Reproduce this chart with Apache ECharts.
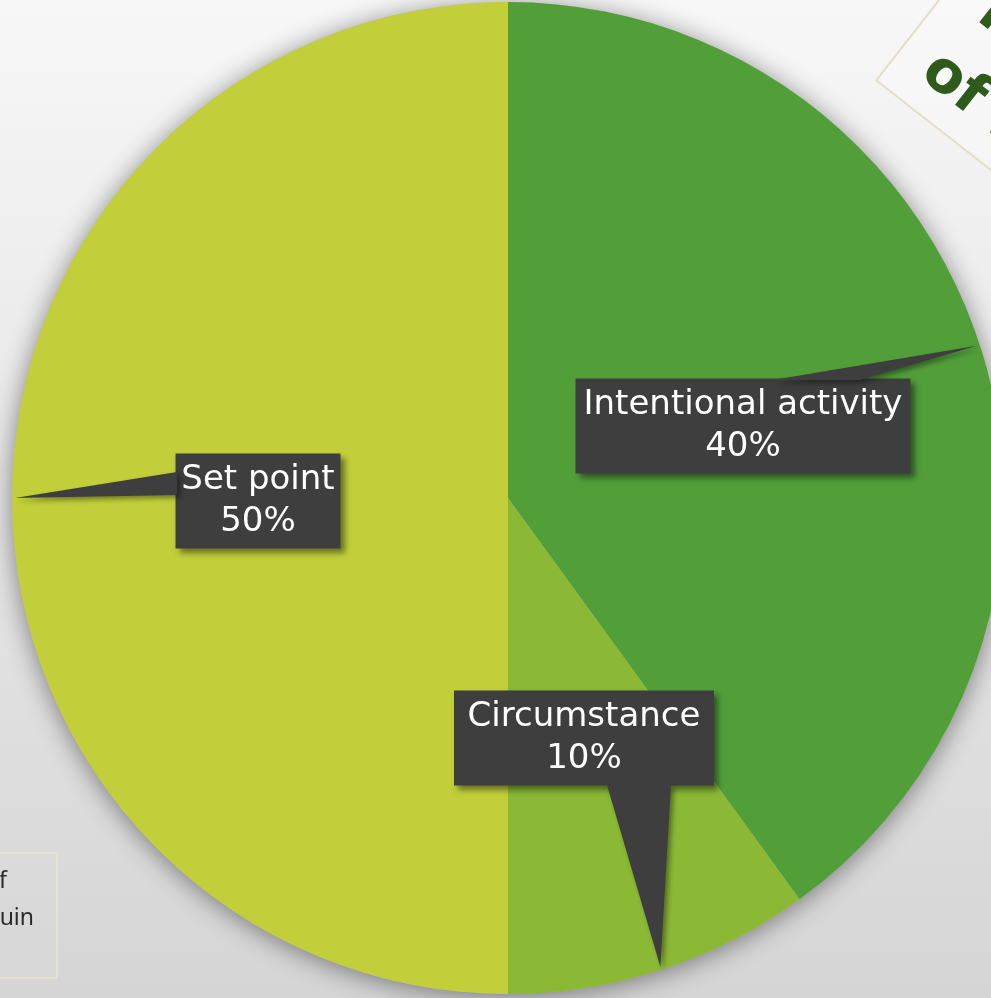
<!DOCTYPE html>
<html><head><meta charset="utf-8">
<script src="https://cdn.jsdelivr.net/npm/echarts@6/dist/echarts.min.js"></script>
<style>html,body{margin:0;padding:0;overflow:hidden;} #c{width:991px;height:998px;}</style>
</head><body><div id="c"></div>
<script>
// ---- data ----
const categories = ['Intentional activity', 'Circumstance', 'Set point'];
const values = [40, 10, 50];
const sliceColors = ['#529F3A', '#8BB835', '#C2CF3A'];
const titleText = 'Three sources\nof happiness';
const noteLines = ['of', 'uin'];

// ---- layout / style (not data) ----
const labelCenters = [[743, 426], [584, 738], [258, 501]];
const labelWidths = [315, 240, 145];
// wedge base points on each callout box (callout styling)
const wedgeBases = [
  [[773, 380], [860, 380]],
  [[607, 785], [671, 785]],
  [[177, 472], [177, 495]]
];
const pieCenter = [508, 498];
const pieRadius = 496;
const boxColor = '#3e3e3e';

const chart = echarts.init(document.getElementById('c'), null, {renderer: 'canvas'});
const total = values.reduce((a, b) => a + b, 0);
const rot = -38 * Math.PI / 180;

const baseGraphics = [
  {
    id: 'titleBox', type: 'rect', x: 1061, y: -156, rotation: rot, z: 1,
    shape: {x: 0, y: 0, width: 420, height: 300},
    style: {fill: 'rgba(255,255,255,0.25)', stroke: '#e4ddcb', lineWidth: 2}
  },
  {
    id: 'titleText', type: 'text', x: 1002, y: -30, rotation: rot, z: 2,
    style: {text: titleText, font: 'bold 58px "DejaVu Sans"', fill: '#2E5A1C',
            align: 'left', verticalAlign: 'top', lineHeight: 80}
  },
  {
    id: 'noteBox', type: 'rect', x: -10, y: 853, z: 1,
    shape: {x: 0, y: 0, width: 67, height: 125},
    style: {fill: 'rgba(255,255,255,0.04)', stroke: '#ece6d2', lineWidth: 1.5}
  },
  {
    id: 'note1', type: 'text', x: 7, y: 881, z: 2,
    style: {text: noteLines[0], font: '23px "Noto Sans"', fill: '#2a2a2a', align: 'right', verticalAlign: 'middle'}
  },
  {
    id: 'note2', type: 'text', x: 34, y: 918, z: 2,
    style: {text: noteLines[1], font: '23px "Noto Sans"', fill: '#2a2a2a', align: 'right', verticalAlign: 'middle'}
  }
];

const option = {
  animation: false,
  backgroundColor: new echarts.graphic.LinearGradient(0, 0, 0, 1, [
    {offset: 0, color: '#f7f7f7'},
    {offset: 1, color: '#d5d5d5'}
  ]),
  graphic: baseGraphics,
  series: [
    {
      type: 'pie', silent: true, z: 1,
      center: pieCenter, radius: pieRadius,
      data: [{value: total, name: 'shadow'}],
      label: {show: false}, labelLine: {show: false},
      itemStyle: {color: '#b8b8b8', shadowBlur: 26, shadowColor: 'rgba(0,0,0,0.45)', shadowOffsetY: 3}
    },
    {
      type: 'pie', z: 2,
      center: pieCenter, radius: pieRadius,
      startAngle: 90, clockwise: true,
      data: categories.map((c, i) => ({
        name: c, value: values[i],
        itemStyle: {color: sliceColors[i]},
        label: {width: labelWidths[i]}
      })),
      itemStyle: {borderWidth: 0},
      label: {
        show: true, position: 'inside',
        formatter: '{b}\n{d}%',
        color: '#ffffff', fontFamily: 'DejaVu Sans', fontSize: 34, lineHeight: 42,
        align: 'center', overflow: 'none',
        backgroundColor: boxColor,
        padding: [6, 10, 5, 10],
        shadowColor: 'rgba(0,0,0,0.45)', shadowBlur: 6, shadowOffsetX: 4, shadowOffsetY: 4
      },
      labelLine: {show: false},
      labelLayout: function (params) {
        const p = labelCenters[params.dataIndex];
        return {x: p[0], y: p[1], align: 'center', verticalAlign: 'middle'};
      },
      emphasis: {disabled: true}
    }
  ]
};
chart.setOption(option);

// pointer wedges: tips at the outer edge of each slice's middle angle, taken from the pie's own layout
const pieData = chart.getModel().getSeriesByIndex(1).getData();
const wedges = [];
for (let i = 0; i < values.length; i++) {
  const lay = pieData.getItemLayout(i);
  const mid = (lay.startAngle + lay.endAngle) / 2;
  const rr = lay.r - 3;
  const tip = [lay.cx + rr * Math.cos(mid), lay.cy + rr * Math.sin(mid)];
  wedges.push({
    id: 'wedge' + i, type: 'polygon', z: 3,
    shape: {points: [wedgeBases[i][0], tip, wedgeBases[i][1]]},
    style: {fill: boxColor, shadowColor: 'rgba(0,0,0,0.4)', shadowBlur: 5, shadowOffsetX: 3, shadowOffsetY: 3}
  });
}
chart.setOption({graphic: baseGraphics.concat(wedges)});
</script>
</body></html>
